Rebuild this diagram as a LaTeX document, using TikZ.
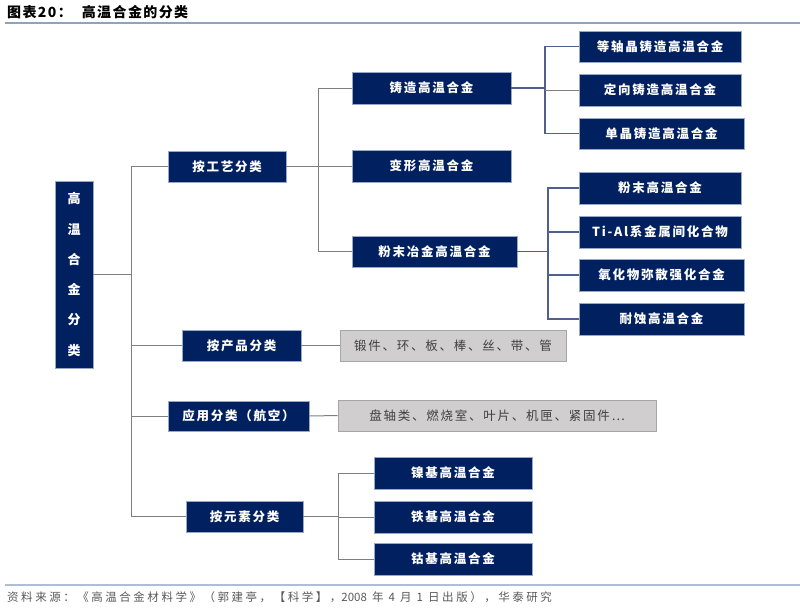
\documentclass[tikz,border=0pt]{standalone}
\usepackage{fontspec}
\setmainfont{Noto Sans CJK SC}
\newfontfamily\cjk[LetterSpace=14]{Noto Sans CJK SC}
\newfontfamily\cjktitle[LetterSpace=10]{Noto Sans CJK SC}
\newfontfamily\cjkfoot[LetterSpace=22]{Noto Sans CJK SC}
\newfontfamily\cjkplain{Noto Sans CJK SC}
\definecolor{navy}{HTML}{002060}
\definecolor{navyedge}{HTML}{9AA8C8}
\definecolor{grayfill}{HTML}{D0CECE}
\definecolor{grayedge}{HTML}{A6A6A6}
\definecolor{grayline}{HTML}{7F7F7F}
\definecolor{blueline}{HTML}{4F5F8F}
\definecolor{ruleline}{HTML}{8EA3C0}
\definecolor{foottext}{HTML}{595959}
\tikzset{
  navybox/.style={draw=navyedge, line width=0.8pt, fill=navy, text=white, inner sep=0pt,
    font=\cjk\bfseries\fontsize{12.5}{14}\selectfont},
  graybox/.style={draw=grayedge, line width=0.8pt, fill=grayfill, text=black!75, inner sep=0pt,
    font=\cjk\fontsize{12.5}{14}\selectfont},
  conn/.style={draw=grayline, line width=1pt},
  bconn/.style={draw=blueline, line width=1.1pt},
}
\begin{document}
\begin{tikzpicture}[x=1pt,y=-1pt]
\useasboundingbox (0,0) rectangle (800,610);
% title
\node[anchor=west, inner sep=0pt, font=\cjktitle\bfseries\fontsize{14}{16}\selectfont] (title) at (7,12) {图表20：\hspace{10pt}高温合金的分类};
\draw[ruleline, line width=1.2pt] (5,23) -- (800,23);
\draw[ruleline!70, line width=1.2pt] (5,585) -- (800,585);
\node[anchor=west, inner sep=0pt, text=foottext, font=\cjkfoot\fontsize{11.5}{13}\selectfont] (foot) at (7,597) {资料来源：《高温合金材料学》（郭建亭，【科学】，{\cjkplain 2008} 年 {\cjkplain 4} 月 {\cjkplain 1} 日出版），华泰研究};

% root
\node[navybox, minimum width=38pt, minimum height=187pt, align=center,
  font=\cjk\bfseries\fontsize{13}{30.3}\selectfont] (root) at (74,274.5) {高\\温\\合\\金\\分\\类};

% level 1
\node[navybox, minimum width=118pt, minimum height=31pt] (gy) at (227,166.5) {按工艺分类};
\node[navybox, minimum width=119pt, minimum height=31pt] (cp) at (241.5,345.5) {按产品分类};
\node[navybox, minimum width=141pt, minimum height=30pt] (yy) at (238.5,416) {应用分类（航空）};
\node[navybox, minimum width=117pt, minimum height=31pt] (ys) at (244.5,516.5) {按元素分类};

% level 2 (process)
\node[navybox, minimum width=159pt, minimum height=32pt] (zz) at (431.5,88) {铸造高温合金};
\node[navybox, minimum width=159pt, minimum height=32pt] (bx) at (431.5,166) {变形高温合金};
\node[navybox, minimum width=165pt, minimum height=31pt] (fm) at (434.5,251.5) {粉末冶金高温合金};

% level 3 cast
\node[navybox, minimum width=162pt, minimum height=31pt] (a1) at (660,46.5) {等轴晶铸造高温合金};
\node[navybox, minimum width=162pt, minimum height=32pt] (a2) at (660,90) {定向铸造高温合金};
\node[navybox, minimum width=165pt, minimum height=31pt] (a3) at (661.5,133.5) {单晶铸造高温合金};

% level 3 powder
\node[navybox, minimum width=162pt, minimum height=32pt] (b1) at (660,188) {粉末高温合金};
\node[navybox, minimum width=162pt, minimum height=32pt] (b2) at (660,232) {Ti-Al系金属间化合物};
\node[navybox, minimum width=165pt, minimum height=32pt] (b3) at (661.5,275) {氧化物弥散强化合金};
\node[navybox, minimum width=165pt, minimum height=32pt] (b4) at (661.5,319) {耐蚀高温合金};

% gray boxes
\node[graybox, minimum width=226pt, minimum height=31pt] (g1) at (453,345.5) {锻件、环、板、棒、丝、带、管};
\node[graybox, minimum width=318pt, minimum height=31pt] (g2) at (497,415.5) {盘轴类、燃烧室、叶片、机匣、紧固件⋯};

% elements
\node[navybox, minimum width=158pt, minimum height=32pt] (c1) at (453,473) {镍基高温合金};
\node[navybox, minimum width=158pt, minimum height=32pt] (c2) at (453,517) {铁基高温合金};
\node[navybox, minimum width=158pt, minimum height=32pt] (c3) at (453,559) {钴基高温合金};

% trunk
\coordinate (t) at (131,274.5);
\draw[conn] (root.east) -- (t);
\draw[conn] (gy.west) -- (gy.west -| t) -- (ys.west -| t) -- (ys.west);
\draw[conn] (cp.west -| t) -- (cp.west);
\draw[conn] (yy.west -| t) -- (yy.west);
\draw[conn] (cp.east) -- (g1.west);
\draw[conn] (yy.east) -- (g2.west);

% process branch
\coordinate (p) at (318,166.5);
\draw[conn] (gy.east) -- (p);
\draw[conn] (zz.west) -- (zz.west -| p) -- (fm.west -| p) -- (fm.west);
\draw[conn] (bx.west -| p) -- (bx.west);

% cast branch
\coordinate (q) at (545,88);
\draw[bconn] (zz.east) -- (q);
\draw[bconn] (a1.west) -- (a1.west -| q) -- (a3.west -| q) -- (a3.west);
\draw[conn] (a2.west -| q) -- (a2.west);

% powder branch
\coordinate (r) at (548,251.5);
\draw[bconn] (fm.east) -- (r);
\draw[bconn] (b1.west) -- (b1.west -| r) -- (b4.west -| r) -- (b4.west);
\draw[bconn] (b2.west -| r) -- (b2.west);
\draw[bconn] (b3.west -| r) -- (b3.west);

% element branch
\coordinate (s) at (338,516.5);
\draw[conn] (ys.east) -- (s);
\draw[conn] (c1.west) -- (c1.west -| s) -- (c3.west -| s) -- (c3.west);
\draw[conn] (c2.west -| s) -- (c2.west);
\end{tikzpicture}
\end{document}
